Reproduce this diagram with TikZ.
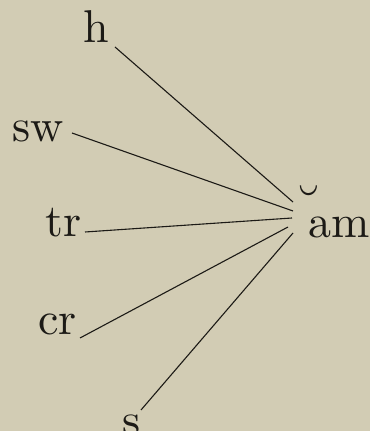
\documentclass[tikz,border=0pt]{standalone}
\usepackage{fontspec}
\setmainfont{lmroman10-regular.otf}
\definecolor{paper}{RGB}{210,204,180}
\definecolor{ink}{RGB}{28,26,22}
\begin{document}
\begin{tikzpicture}[x=1pt,y=1pt,
  lbl/.style={font=\fontsize{46}{50}\selectfont, inner sep=0pt, anchor=base west, text=ink},
  link/.style={draw=ink, line width=1.1pt}]
\fill[paper] (0,0) rectangle (370,431);
\useasboundingbox (0,0) rectangle (370,431);
\node[lbl] (h)  at (83,388) {h};
\node[lbl] (sw) at (12,289) {sw};
\node[lbl] (tr) at (45,194) {tr};
\node[lbl] (cr) at (38,96)  {cr};
\node[lbl] (s)  at (122,-5) {s};
\node[lbl] (am) at (308,193) {am};
\node[lbl, anchor=center, scale=1.25] (br) at (309,225) {\char"02D8};
\draw[link] ([shift={(32,-4)}]h.base west)  -- ([shift={(-15,36)}]am.base west);
\draw[link] ([shift={(60,9)}]sw.base west)  -- ([shift={(-15,27)}]am.base west);
\draw[link] ([shift={(40,5)}]tr.base west)  -- ([shift={(-16,20)}]am.base west);
\draw[link] ([shift={(42,-3)}]cr.base west) -- ([shift={(-20,11)}]am.base west);
\draw[link] ([shift={(19,26)}]s.base west)  -- ([shift={(-15,5)}]am.base west);
\end{tikzpicture}
\end{document}
